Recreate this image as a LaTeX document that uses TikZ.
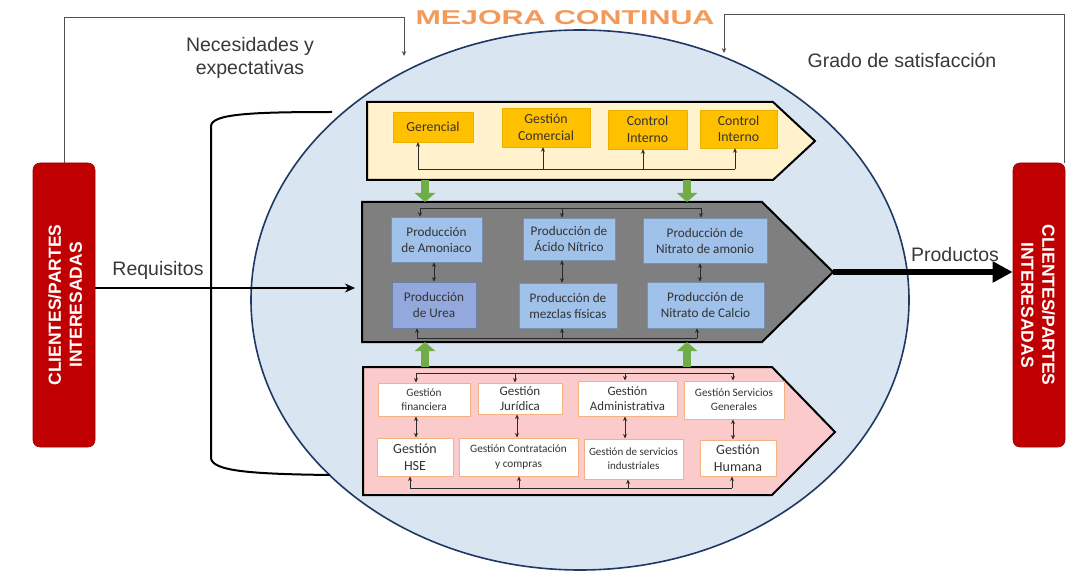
\documentclass[tikz,border=0pt]{standalone}
\usepackage{fontspec}
\setmainfont{Liberation Sans}
\newfontfamily\boxfont{Carlito}
\usetikzlibrary{arrows.meta,calc}
\definecolor{labelc}{HTML}{383838}
\definecolor{ellf}{HTML}{DAE5F2}
\definecolor{elld}{HTML}{1F3864}
\definecolor{chy}{HTML}{FFF2CC}
\definecolor{chg}{HTML}{7F7F7F}
\definecolor{chp}{HTML}{FBCACA}
\definecolor{yelb}{HTML}{FFC000}
\definecolor{blub}{HTML}{9FC1EA}
\definecolor{blup}{HTML}{93A9DE}
\definecolor{pinkb}{HTML}{F4B183}
\definecolor{boxtext}{HTML}{333333}
\definecolor{busc}{HTML}{2A2A2A}
\definecolor{redc}{HTML}{C00000}
\definecolor{greenc}{HTML}{70AD47}
\definecolor{fbc}{HTML}{505050}
\definecolor{orangec}{HTML}{F39A5A}
\begin{document}
\begin{tikzpicture}[x=1pt,y=-1pt,
 lbl/.style={font=\fontsize{19.5}{23.5}\selectfont, text=labelc, align=center, inner sep=0},
 ybox/.style={fill=yelb, draw=yelb!92!black, line width=0.4pt, align=center, inner sep=0, text=boxtext, font=\boxfont\fontsize{13.8}{16.5}\selectfont},
 bbox/.style={fill=blub, draw=blub!75!black, line width=0.6pt, align=center, inner sep=0, text=boxtext, font=\boxfont\fontsize{13.2}{16}\selectfont},
 pbox/.style={fill=white, draw=pinkb, line width=1pt, align=center, inner sep=0, text=boxtext},
 tip/.style={draw=busc, line width=0.8pt, -{Stealth[length=4.5pt,width=4pt]}},
 dtip/.style={draw=busc, line width=0.8pt, {Stealth[length=4.5pt,width=4pt]}-{Stealth[length=4.5pt,width=4pt]}},
 bus/.style={line width=0.8pt, draw=busc},
 redbox/.style={fill=redc, draw=redc!80!black, line width=0.6pt, rounded corners=7pt, inner sep=0},
 redtext/.style={text=white, font=\bfseries\fontsize{17.5}{21}\selectfont, align=center, inner sep=0},
 garrow/.style={draw=greenc, line width=8pt, -{Triangle[length=9pt,width=20pt]}},
 fb/.style={draw=fbc, line width=1pt, -{Stealth[length=5pt,width=4.5pt]}},
 chev/.style={draw=black, line width=2pt, line join=miter},
]
\useasboundingbox (0,0) rectangle (1085,583);
\fill[white] (0,0) rectangle (1085,583);

% big ellipse
\draw[fill=ellf, draw=elld, line width=1.6pt] (580,300) ellipse [x radius=329, y radius=270];

% left bracket
\draw[line width=2pt, black] (332,112) .. controls (250,112) and (212,114) .. (211,126) -- (211,458) .. controls (212,471) and (250,474) .. (330,475);

% chevrons
\draw[chev, fill=chy] (367,102) -- (773,102) -- (815,141) -- (773,180) -- (367,180) -- cycle;
\draw[chev, fill=chg] (362,202) -- (762,202) -- (833,272) -- (762,342) -- (362,342) -- cycle;
\draw[chev, fill=chp] (363,367) -- (772,367) -- (835,432) -- (772,495) -- (363,495) -- cycle;
\coordinate (gtip) at (833,272);

% red boxes
\node[redbox, minimum width=62, minimum height=284] (lbox) at (64,305) {};
\node[redtext, rotate=90] (ltext) at (65,305) {CLIENTES/PARTES\\INTERESADAS};
\node[redbox, minimum width=52, minimum height=284] (rbox) at (1039,305) {};
\node[redtext, rotate=-90] (rtext) at (1038,305) {CLIENTES/PARTES\\INTERESADAS};

% title
\node[inner sep=0, text=orangec, font=\bfseries\fontsize{20}{22}\selectfont] (mejora) at (565,18) {\scalebox{1.52}[1]{MEJORA CONTINUA}};

% labels
\node[lbl] (nec) at (250,58) {Necesidades y\\expectativas};
\node[lbl] (grado) at (902,60) {Grado de satisfacción};
\node[lbl] (requ) at (158,270) {Requisitos};
\node[lbl] (prod) at (955,255) {Productos};

% feedback lines
\coordinate (fl1) at (404,18);
\coordinate (fl2) at (404,56);
\draw[fb] (lbox.north) |- (fl1) -- (fl2);
\coordinate (fr1) at (724,15);
\coordinate (fr2) at (724,53);
\draw[fb] ([xshift=-1pt]rbox.north east) |- (fr1) -- (fr2);

% yellow boxes
\node[ybox, minimum width=80, minimum height=30] (ger) at (433,127) {Gerencial};
\node[ybox, minimum width=88, minimum height=39] (com) at (546,127.5) {Gestión\\Comercial};
\node[ybox, minimum width=79, minimum height=39] (ci1) at (647.5,129.5) {Control\\Interno};
\node[ybox, minimum width=77, minimum height=38] (ci2) at (738.5,129) {Control\\Interno};
\coordinate (yb) at (0,169);
\coordinate (ya) at (418,0);
\coordinate (yc) at (543,0);
\coordinate (yd) at (643,0);
\coordinate (ye) at (735,0);
\draw[bus] (ya |- yb) -- (ye |- yb);
\draw[tip] (ya |- yb) -- (ya |- ger.south);
\draw[tip] (yc |- yb) -- (yc |- com.south);
\draw[tip] (yd |- yb) -- (yd |- ci1.south);
\draw[tip] (ye |- yb) -- (ye |- ci2.south);

% blue boxes
\node[bbox, minimum width=91, minimum height=45] (amo) at (436.5,239.5) {Producción\\de Amoniaco};
\node[bbox, minimum width=92, minimum height=42] (aci) at (569,239) {Producción de\\Ácido Nítrico};
\node[bbox, minimum width=124, minimum height=45] (nam) at (705,240.5) {Producción de\\Nitrato de amonio};
\node[bbox, fill=blup, draw=blup!75!black, minimum width=84, minimum height=46] (ure) at (434,305) {Producción\\de Urea};
\node[bbox, minimum width=98, minimum height=45] (mez) at (568,305.5) {Producción de\\mezclas físicas};
\node[bbox, minimum width=117, minimum height=46] (nca) at (705.5,305) {Producción de\\Nitrato de Calcio};
\coordinate (mt) at (0,208);
\coordinate (mb) at (0,338);
\coordinate (ma) at (420,0);
\coordinate (mc) at (562,0);
\coordinate (md) at (701,0);
\coordinate (me) at (417,0);
\coordinate (mf) at (697,0);
\coordinate (mg) at (700,0);
\draw[bus] (ma |- mt) -- (md |- mt);
\draw[tip] (ma |- mt) -- (ma |- amo.north);
\draw[tip] (mc |- mt) -- (mc |- aci.north);
\draw[tip] (md |- mt) -- (md |- nam.north);
\draw[bus] (me |- mb) -- (mf |- mb);
\draw[tip] (me |- mb) -- (me |- ure.south);
\draw[tip] (mc |- mb) -- (mc |- mez.south);
\draw[tip] (mf |- mb) -- (mf |- nca.south);
\draw[dtip] (ure.north |- amo.south) -- (ure.north);
\draw[dtip] (mc |- aci.south) -- (mc |- mez.north);
\draw[dtip] (mg |- nam.south) -- (mg |- nca.north);

% pink boxes
\node[pbox, minimum width=92, minimum height=33, font=\boxfont\fontsize{11.3}{14}\selectfont] (fin) at (424,399.5) {Gestión\\financiera};
\node[pbox, minimum width=84, minimum height=31, font=\boxfont\fontsize{13}{15.5}\selectfont] (jur) at (520,398.5) {Gestión\\Jurídica};
\node[pbox, minimum width=99, minimum height=35, font=\boxfont\fontsize{12.8}{15.5}\selectfont] (adm) at (627.5,398.5) {Gestión\\Administrativa};
\node[pbox, minimum width=100, minimum height=38, font=\boxfont\fontsize{11.3}{14}\selectfont] (ser) at (734,400) {Gestión Servicios\\Generales};
\node[pbox, minimum width=76, minimum height=38, font=\boxfont\fontsize{14}{17}\selectfont] (hse) at (415,457) {Gestión\\HSE};
\node[pbox, minimum width=119, minimum height=38, font=\boxfont\fontsize{11.3}{15}\selectfont] (con) at (518.5,457) {Gestión Contratación\\y compras};
\node[pbox, minimum width=99, minimum height=40, font=\boxfont\fontsize{11}{14}\selectfont] (ind) at (633.5,459) {Gestión de servicios\\industriales};
\node[pbox, minimum width=76, minimum height=36, font=\boxfont\fontsize{14}{17}\selectfont] (hum) at (738,458) {Gestión\\Humana};
\coordinate (pt) at (0,373);
\coordinate (pb) at (0,488);
\coordinate (pa) at (416,0);
\coordinate (pc) at (515,0);
\coordinate (pd) at (625,0);
\coordinate (pe) at (733,0);
\coordinate (pf) at (410,0);
\coordinate (pg) at (519,0);
\coordinate (ph) at (628,0);
\coordinate (pi) at (732,0);
\coordinate (pj) at (517,0);
\draw[bus] (pa |- pt) -- (pe |- pt);
\draw[tip] (pa |- pt) -- (pa |- fin.north);
\draw[tip] (pc |- pt) -- (pc |- jur.north);
\draw[tip] (pd |- pt) -- (pd |- adm.north);
\draw[tip] (pe |- pt) -- (pe |- ser.north);
\draw[bus] (pf |- pb) -- (pi |- pb);
\draw[tip] (pf |- pb) -- (pf |- hse.south);
\draw[tip] (pg |- pb) -- (pg |- con.south);
\draw[tip] (ph |- pb) -- (ph |- ind.south);
\draw[tip] (pi |- pb) -- (pi |- hum.south);
\draw[dtip] (pa |- fin.south) -- (pa |- hse.north);
\draw[dtip] (pj |- jur.south) -- (pj |- con.north);
\draw[dtip] (pd |- adm.south) -- (pd |- ind.north);
\draw[dtip] (pe |- ser.south) -- (pe |- hum.north);

% green arrows
\coordinate (g1) at (425,0);
\coordinate (g2) at (687,0);
\coordinate (gy1) at (0,180);
\coordinate (gy2) at (0,202);
\coordinate (gy3) at (0,367);
\coordinate (gy4) at (0,342);
\draw[garrow] (g1 |- gy1) -- (g1 |- gy2);
\draw[garrow] (g2 |- gy1) -- (g2 |- gy2);
\draw[garrow] (g1 |- gy3) -- (g1 |- gy4);
\draw[garrow] (g2 |- gy3) -- (g2 |- gy4);

% requisitos and productos arrows
\coordinate (req) at (355,288);
\draw[line width=2pt, -{Stealth[length=10pt,width=9pt]}] (lbox.east |- req) -- (req);
\draw[line width=5.5pt, -{Triangle[length=20pt,width=20pt]}] (gtip) -- (rbox.west |- gtip);
\end{tikzpicture}
\end{document}
